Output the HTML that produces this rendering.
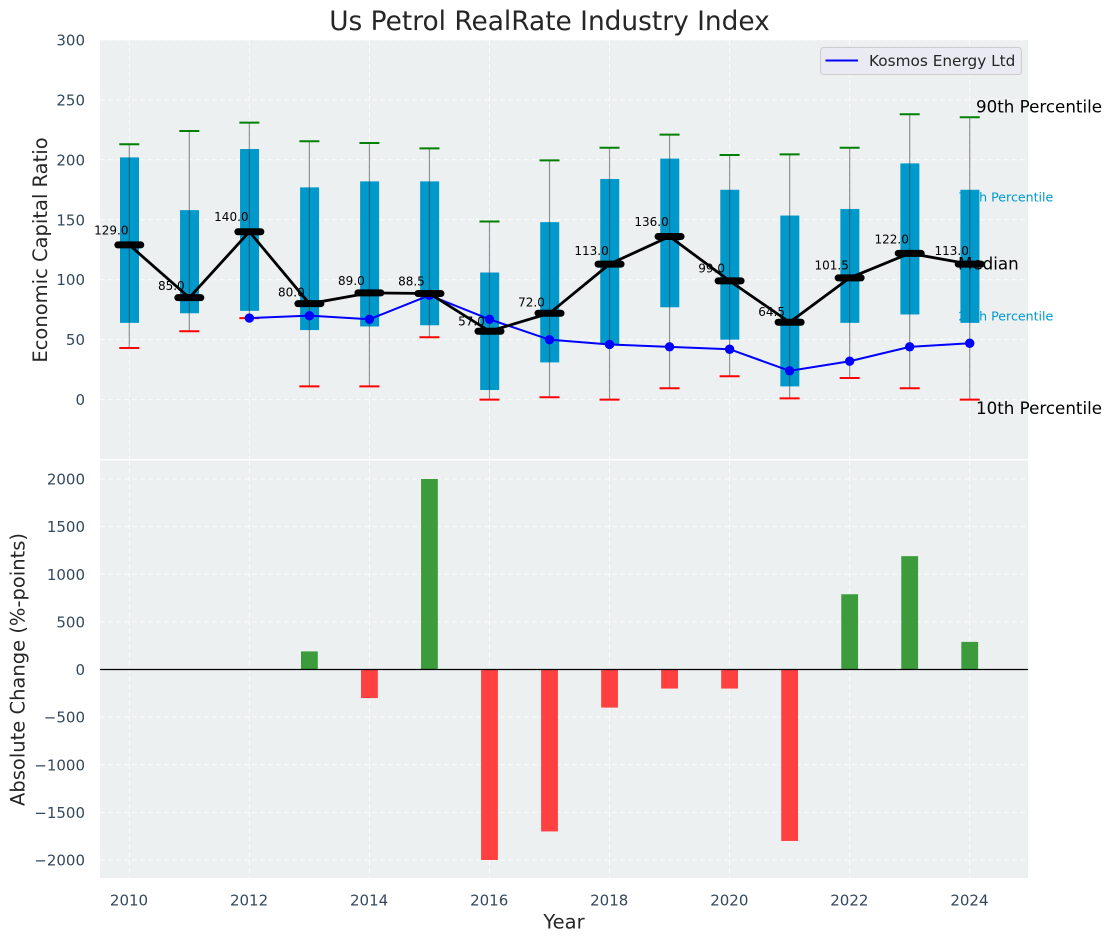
<!DOCTYPE html>
<html>
<head>
<meta charset="utf-8">
<title>Us Petrol RealRate Industry Index</title>
<style>
html,body{margin:0;padding:0;background:#fff;}
svg{display:block;font-family:"DejaVu Sans","Liberation Sans",sans-serif;}
</style>
</head>
<body>
<svg id="chart" xmlns="http://www.w3.org/2000/svg" width="1111" height="942" viewBox="0 0 1111 942">
<rect x="0" y="0" width="1111" height="942" fill="#ffffff"/>
<text x="549.5" y="30" font-size="26.4" text-anchor="middle" fill="#262626">Us Petrol RealRate Industry Index</text>
<rect x="100" y="40" width="928" height="419" fill="#ecf0f1"/>
<rect x="100" y="460.5" width="928" height="417.5" fill="#ecf0f1"/>
<g id="layer"></g>
<text transform="translate(47 250) rotate(-90)" font-size="19.5" text-anchor="middle" fill="#262626">Economic Capital Ratio</text>
<text transform="translate(24.5 669.5) rotate(-90)" font-size="19.5" text-anchor="middle" fill="#262626">Absolute Change (%-points)</text>
<text x="564" y="928.5" font-size="19.5" text-anchor="middle" fill="#262626">Year</text>
<g>
<rect x="820.5" y="47.5" width="201" height="27" rx="3" fill="#eaeaf2" fill-opacity="0.9" stroke="#cccccc"/>
<line x1="825.5" y1="60.5" x2="858" y2="60.5" stroke="#0000ff" stroke-width="2"/>
<text x="869" y="66" font-size="15.3" fill="#262626">Kosmos Energy Ltd</text>
</g>
</svg>
<script>
const years = [2010,2011,2012,2013,2014,2015,2016,2017,2018,2019,2020,2021,2022,2023,2024];
const p90 = [213,224,231,215.5,214,209.5,148.5,199.5,210,221,204,204.5,210,238,235.5];
const p75 = [202,158,209,177,182,182,106,148,184,201,175,153.5,159,197,175];
const median = [129,85,140,80,89,88.5,57,72,113,136,99,64.5,101.5,122,113];
const p25 = [64,72,74,58,61,62,8,31,46,77,50,11,64,71,64];
const p10 = [43,57,68,11,11,52,0,2,0,9.5,19.5,1,18,9.5,0];
const kosmos = [null,null,68,70,67,87,67,50,46,44,42,24,32,44,47];
const change = [null,null,null,190,-300,2000,-2000,-1700,-400,-200,-200,-1800,790,1190,290];
const topTicks = [0,50,100,150,200,250,300];
const bottomTicks = [-2000,-1500,-1000,-500,0,500,1000,1500,2000];
const xTicks = [2010,2012,2014,2016,2018,2020,2022,2024];

const NS = 'http://www.w3.org/2000/svg';
const layer = document.getElementById('layer');
const X = v => 129.3 + (v - 2010) * 60.03;
const YT = v => 399.6 - v * 1.199;
const YB = v => 669.5 - v * 0.09525;
function mk(tag, attrs, text) {
  const el = document.createElementNS(NS, tag);
  for (const k in attrs) el.setAttribute(k, attrs[k]);
  if (text !== undefined) el.textContent = text;
  layer.appendChild(el);
  return el;
}
const tickFill = '#34495e';

// Grid lines and tick labels
xTicks.forEach(t => {
  const g1 = mk('line', {x1:X(t), x2:X(t), y1:40, y2:459, stroke:'#fff', 'stroke-width':1, 'stroke-dasharray':'5 3', opacity:.8});
  
  
  const g2 = mk('line', {x1:X(t), x2:X(t), y1:460.5, y2:878, stroke:'#fff', 'stroke-width':1, 'stroke-dasharray':'5 3', opacity:.8});
  
  
  const l = mk('text', {x:X(t) - 0.3, y:905.5, 'font-size':15, 'text-anchor':'middle', fill:tickFill}, t);
  
  
});
topTicks.forEach(t => {
  const g = mk('line', {x1:100, x2:1028, y1:YT(t), y2:YT(t), stroke:'#fff', 'stroke-width':1, 'stroke-dasharray':'5 3', opacity:.8});
  
  
  const l = mk('text', {x:85, y:YT(t) + 5.5, 'font-size':15, 'text-anchor':'end', fill:tickFill}, t);
  
  
});
bottomTicks.forEach(t => {
  const g = mk('line', {x1:100, x2:1028, y1:YB(t), y2:YB(t), stroke:'#fff', 'stroke-width':1, 'stroke-dasharray':'5 3', opacity:.8});
  
  
  const l = mk('text', {x:85, y:YB(t) + 5.5, 'font-size':15, 'text-anchor':'end', fill:tickFill}, String(t).replace('-', '\u2212'));
  
  
});

// Percentile captions beneath boxes
const last = years.length - 1;
const c75 = mk('text', {x:X(years[last]) - 11.5, y:YT(p75[last]) + 11.5, 'font-size':12.6, fill:'#0099cc'}, '75th Percentile');


const c25 = mk('text', {x:X(years[last]) - 11.5, y:YT(p25[last]) - 2.5, 'font-size':12.6, fill:'#0099cc'}, '25th Percentile');



// Boxes
years.forEach((yr, i) => {
  const b = mk('rect', {x:X(yr) - 9.3, width:19, y:YT(p75[i]), height:YT(p25[i]) - YT(p75[i]), fill:'#0099cc'});
  
  
});
// Whiskers
years.forEach((yr, i) => {
  const w = mk('line', {x1:X(yr), x2:X(yr), y1:YT(p90[i]), y2:YT(p10[i]), stroke:'#333', 'stroke-width':1.2, opacity:.5});
  
  
  const hi = mk('line', {x1:X(yr) - 10, x2:X(yr) + 10, y1:YT(p90[i]), y2:YT(p90[i]), stroke:'#008000', 'stroke-width':2});
  
  
  const lo = mk('line', {x1:X(yr) - 10, x2:X(yr) + 10, y1:YT(p10[i]), y2:YT(p10[i]), stroke:'#ff0000', 'stroke-width':2});
  
  
});

// Kosmos series
const kPts = years.map((yr, i) => kosmos[i] === null ? null : [X(yr), YT(kosmos[i])]).filter(Boolean);
const kLine = mk('polyline', {points:kPts.map(p => p.join(',')).join(' '), fill:'none', stroke:'#0000ff', 'stroke-width':2});


kPts.forEach(p => {
  const c = mk('circle', {cx:p[0], cy:p[1], r:4.7, fill:'#0000ff'});
  
  
});

// Value labels
years.forEach((yr, i) => {
  const t = mk('text', {x:X(yr) - 18, y:YT(median[i] * 1.05) - 2.5, 'font-size':12, 'text-anchor':'middle', fill:'#000'}, median[i].toFixed(1));
  
  
});

// Right-side captions
const c90 = mk('text', {x:976, y:YT(p90[last]) - 4.5, 'font-size':16.7, fill:'#000'}, '90th Percentile');


const cMed = mk('text', {x:958, y:YT(median[last]) + 5.5, 'font-size':16.7, fill:'#000'}, 'Median');


const c10 = mk('text', {x:976, y:YT(p10[last]) + 14.5, 'font-size':16.7, fill:'#000'}, '10th Percentile');



// Median series
const mLine = mk('polyline', {points:years.map((yr, i) => X(yr) + ',' + YT(median[i])).join(' '), fill:'none', stroke:'#000', 'stroke-width':2.8});


years.forEach((yr, i) => {
  const m = mk('line', {x1:X(yr) - 11.5, x2:X(yr) + 11.5, y1:YT(median[i]), y2:YT(median[i]), stroke:'#000', 'stroke-width':7, 'stroke-linecap':'round'});
  
  
});

// Change bars
years.forEach((yr, i) => {
  if (change[i] === null) return;
  const top = Math.min(YB(0), YB(change[i]));
  const b = mk('rect', {x:X(yr) - 8.4, width:16.8, y:top, height:Math.abs(YB(change[i]) - YB(0)), fill:change[i] >= 0 ? '#3c9c3c' : '#ff4040'});
  
  
});
const zero = mk('line', {x1:100, x2:1028, y1:YB(0), y2:YB(0), stroke:'#000', 'stroke-width':1.2});


</script>
</body>
</html>
